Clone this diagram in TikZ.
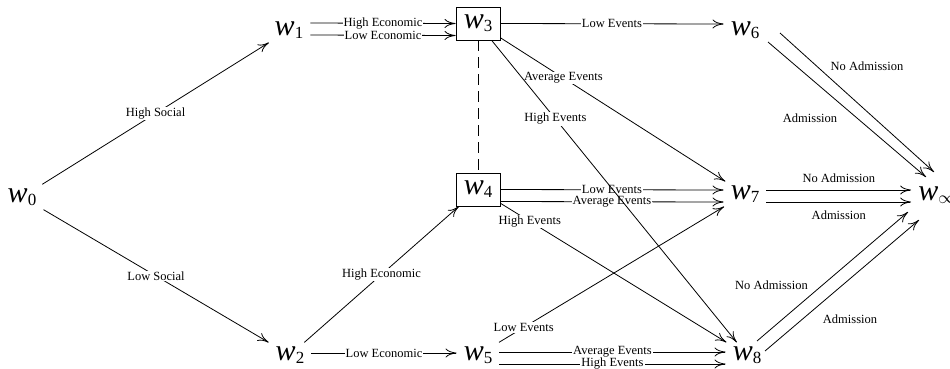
\documentclass[tikz,border=0pt]{standalone}
\usepackage{fontspec}
\setmainfont{Liberation Serif}
\usetikzlibrary{arrows.meta}

\newcommand{\wst}[1]{\textit{w}\raisebox{-3pt}{\fontsize{17}{17}\selectfont #1}}

\tikzset{
	wnode/.style={inner xsep=7pt, inner ysep=4pt, font=\fontsize{30}{32}\selectfont},
	boxed/.style={draw, line width=0.8pt, minimum width=44pt, minimum height=33pt, inner sep=0pt, font=\fontsize{30}{32}\selectfont},
	move/.style={-{To[length=11pt,width=9pt]}, line width=0.8pt},
	lab/.style={font=\fontsize{12.5}{14}\selectfont, fill=white, inner sep=1pt},
	side/.style={font=\fontsize{12.5}{14}\selectfont, inner sep=1pt}
}

\begin{document}
\begin{tikzpicture}[x=1pt,y=-1pt]
	\useasboundingbox (0,0) rectangle (950,368);

	\node[wnode] (w0) at (22,197) {\wst{0}};
	\node[wnode] (w1) at (289,30) {\wst{1}};
	\node[wnode] (w2) at (290,355) {\wst{2}};
	\node[boxed] (w3) at (478,23.5) {\wst{3}};
	\node[boxed] (w4) at (478,189.5) {\wst{4}};
	\node[wnode] (w5) at (478,355) {\wst{5}};
	\node[wnode] (w6) at (745,30) {\wst{6}};
	\node[wnode] (w7) at (745,194) {\wst{7}};
	\node[wnode] (w8) at (747,355) {\wst{8}};
	\node[wnode] (winf) at (937,195) {\wst{$\infty$}};

	\draw[move] (w0) -- node[lab] {High Social} (w1);
	\draw[move] (w0) -- node[lab] {Low Social} (w2);

	\draw[move] ([yshift=7pt]w1.east) -- node[lab] {High Economic} (w3.west);
	\draw[move] ([yshift=-5pt]w1.east) -- node[lab] {Low Economic} ([yshift=-12pt]w3.west);
	\draw[move] (w2) -- node[lab] {High Economic} (w4);
	\draw[move] ([yshift=2pt]w2.east) -- node[lab] {Low Economic} ([yshift=2pt]w5.west);

	\draw[line width=0.8pt, dash pattern=on 11pt off 6pt] (w3) -- (w4);

	\draw[move] (w3.east) -- node[lab] {Low Events} ([yshift=6pt]w6.west);
	\draw[move] (w3) -- node[lab, pos=0.28] {Average Events} (w7);
	\draw[move] (w4.east) -- node[lab] {Low Events} ([yshift=4pt]w7.west);
	\draw[move] ([yshift=-12pt]w4.east) -- node[lab] {Average Events} ([yshift=-8pt]w7.west);
	\draw[move] (w4) -- node[lab, pos=0.13] {High Events} (w8);
	\draw[move] (w5) -- node[lab, pos=0.11] {Low Events} (w7);
	\draw[move] ([yshift=3pt]w5.east) -- node[lab] {Average Events} ([yshift=3pt]w8.west);
	\draw[move] ([yshift=-9pt]w5.east) -- node[lab] {High Events} ([yshift=-9pt]w8.west);
	\draw[move] (w3) -- node[lab, pos=0.26] {High Events} (w8);

	\draw[move] ([xshift=35pt,yshift=-3pt]w6.center) -- node[side, xshift=10pt, yshift=36pt] {No Admission} ([xshift=-3pt,yshift=23pt]winf.center);
	\draw[move] ([xshift=23pt,yshift=-12pt]w6.center) -- node[side, xshift=-37pt, yshift=-9pt] {Admission} ([xshift=-11pt,yshift=18pt]winf.center);
	\draw[move] ([yshift=4pt]w7.east) -- node[side, yshift=12pt] {No Admission} ([yshift=5pt]winf.west);
	\draw[move] ([yshift=-8pt]w7.east) -- node[side, yshift=-13pt] {Admission} ([yshift=-7pt]winf.west);
	\draw[move] ([xshift=10pt,yshift=14pt]w8.center) -- node[side, xshift=-61pt, yshift=-9pt] {No Admission} ([xshift=-29pt,yshift=-17pt]winf.center);
	\draw[move] ([xshift=18pt,yshift=4pt]w8.center) -- node[side, xshift=8pt, yshift=-34pt] {Admission} ([xshift=-18pt,yshift=-25pt]winf.center);

\end{tikzpicture}
\end{document}
